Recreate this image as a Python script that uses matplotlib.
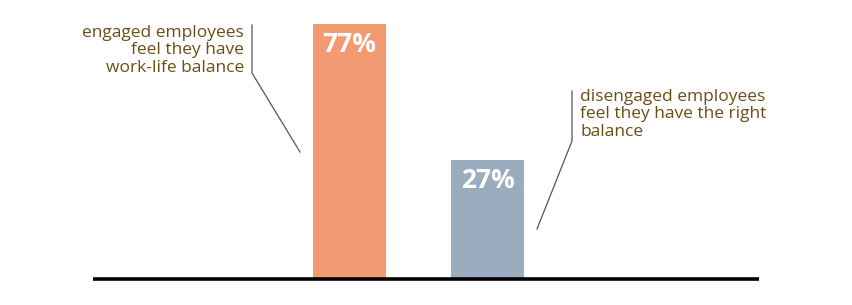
import matplotlib.pyplot as plt

categories = ["engaged", "disengaged"]
values = [77, 27]
labels = ["77%", "27%"]
notes = ["engaged employees\nfeel they have\nwork-life balance",
         "disengaged employees\nfeel they have the right\nbalance"]
colors = ["#F29A72", "#9AACBE"]

W, H = 853, 305
base = -16.8


def px(x, y):
    # figure pixel (from top-left) -> figure fraction
    return x / W, 1 - y / H


fig = plt.figure(figsize=(W / 100, H / 100), dpi=100)
ax = fig.add_axes([93 / W, (H - 279) / H, (759 - 93) / W, 279 / H])

pos = range(len(categories))
ax.bar(pos, [v - base for v in values], bottom=base, width=0.53, color=colors)
for i, v in enumerate(values):
    ax.text(i, v - 7.5, labels[i], ha="center", va="center", color="white",
            fontsize=19, fontweight="bold", family="Open Sans")

ax.set_xlim(-1.859, 2.967)
ax.set_ylim(base, 85.8)
ax.axhline(base, color="black", lw=2.6, clip_on=False, solid_capstyle="butt")
ax.axis("off")

text_color = "#6B4E16"
x, y = px(244, 25)
fig.text(x, y, notes[0], ha="right", va="top", color=text_color,
         fontsize=12.5, family="Open Sans", linespacing=1.12)
x, y = px(580, 89)
fig.text(x, y, notes[1], ha="left", va="top", color=text_color,
         fontsize=12.5, family="Open Sans", linespacing=1.12)

line_color = "#555555"
for pts in ([(252, 25), (252, 73), (300, 152)],
            [(572, 91), (572, 141), (537, 229)]):
    xs = [px(a, b)[0] for a, b in pts]
    ys = [px(a, b)[1] for a, b in pts]
    fig.add_artist(plt.Line2D(xs, ys, color=line_color, lw=0.9,
                              transform=fig.transFigure))

fig.savefig("out.png", dpi=100)
